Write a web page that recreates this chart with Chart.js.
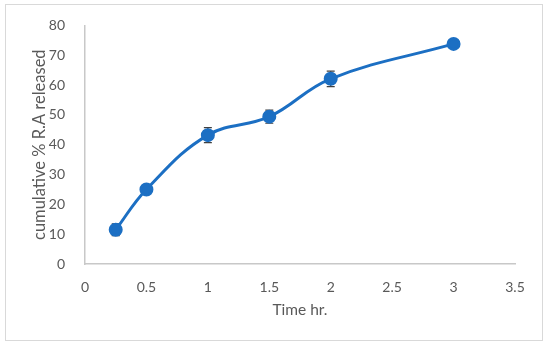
<!DOCTYPE html>
<html>
<head>
<meta charset="utf-8">
<script src="https://cdn.jsdelivr.net/npm/chart.js@4"></script>
<style>
  body { margin: 0; background: #fff; }
  .box { position: absolute; left: 5px; top: 4px; width: 536px; height: 335px; border: 1px solid #d9d9d9; }
  canvas { display: block; }
</style>
</head>
<body>
<div class="box"><canvas id="c" width="536" height="335"></canvas></div>
<script>
// thời gian (giờ) và % giải phóng
const timeHr = [0.25, 0.5, 1, 1.5, 2, 3];
const released = [11.5, 25, 43.2, 49.4, 62.1, 73.8];
const errBars = [2.0, 0.5, 2.5, 2.2, 2.6, 0.5];
const xTicks = [0, 0.5, 1, 1.5, 2, 2.5, 3, 3.5];

const blue = '#1c6fc3';
const grey = '#595959';
const fontFam = 'Lato';

// vẽ thanh sai số (trước điểm, để điểm che phần giữa)
const errorBarPlugin = {
  id: 'errorBars',
  beforeDatasetsDraw(chart) {
    const ctx = chart.ctx;
    const xs = chart.scales.x, ys = chart.scales.y;
    ctx.save();
    ctx.strokeStyle = '#404040';
    ctx.lineWidth = 1.2;
    timeHr.forEach((t, i) => {
      const x = xs.getPixelForValue(t);
      const y1 = ys.getPixelForValue(released[i] + errBars[i]);
      const y2 = ys.getPixelForValue(released[i] - errBars[i]);
      ctx.beginPath();
      ctx.moveTo(x, y1); ctx.lineTo(x, y2);
      ctx.moveTo(x - 4, y1); ctx.lineTo(x + 4, y1);
      ctx.moveTo(x - 4, y2); ctx.lineTo(x + 4, y2);
      ctx.stroke();
    });
    ctx.restore();
  }
};

new Chart(document.getElementById('c'), {
  type: 'scatter',
  data: {
    datasets: [{
      data: timeHr.map((t, i) => ({ x: t, y: released[i] })),
      showLine: true,
      borderColor: blue,
      backgroundColor: blue,
      borderWidth: 3,
      tension: 0.4,
      pointRadius: 5.5,
      pointBackgroundColor: blue,
      pointBorderColor: blue
    }]
  },
  options: {
    responsive: false,
    animation: false,
    layout: { padding: { left: 0, right: 27, top: 19, bottom: 0 } },
    plugins: { legend: { display: false }, tooltip: { enabled: false } },
    scales: {
      x: {
        type: 'linear',
        min: 0, max: 3.5,
        afterBuildTicks: scale => { scale.ticks = xTicks.map(v => ({ value: v })); },
        grid: { display: false },
        border: { display: true, color: '#c8c8c8', width: 1.5 },
        ticks: { color: grey, font: { family: fontFam, size: 14 }, padding: 7, callback: v => String(v) },
        title: { display: true, text: 'Time hr.', color: grey, font: { family: fontFam, size: 15.5 }, padding: { top: 0, bottom: 21 } },
        afterFit: scale => { scale.height = 76; }
      },
      y: {
        min: 0, max: 80,
        grid: { display: false },
        border: { display: true, color: '#c8c8c8', width: 1.5 },
        ticks: { stepSize: 10, color: grey, font: { family: fontFam, size: 14 }, padding: 12 },
        title: { display: true, text: 'cumulative % R.A released', color: grey, font: { family: fontFam, size: 16.5 }, padding: { top: 24, bottom: 0 } },
        afterFit: scale => { scale.width = 79; }
      }
    }
  },
  plugins: [errorBarPlugin]
});
</script>
</body>
</html>
